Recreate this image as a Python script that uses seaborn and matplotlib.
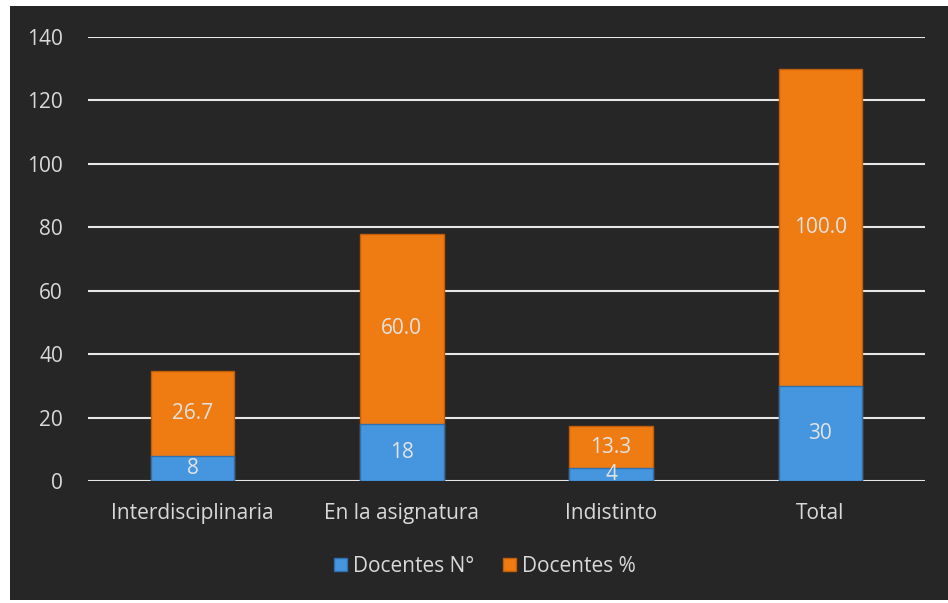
import matplotlib
matplotlib.use("Agg")
import matplotlib.pyplot as plt
import seaborn as sns
import pandas as pd
from matplotlib.patches import Rectangle

categories = ["Interdisciplinaria", "En la asignatura", "Indistinto", "Total"]
docentes_n = [8, 18, 4, 30]
docentes_pct = [26.7, 60.0, 13.3, 100.0]
pct_labels = ["26.7", "60.0", "13.3", "100.0"]
n_labels = ["8", "18", "4", "30"]
yticks = [0, 20, 40, 60, 80, 100, 120, 140]

sns.set_theme(style="dark")
plt.rcParams["font.family"] = ["Open Sans", "DejaVu Sans"]

W, H = 948, 603
fig = plt.figure(figsize=(W / 100, H / 100), dpi=100)
fig.patch.set_facecolor("white")
bg_color = "#262626"
fig.patches.append(Rectangle((10 / W, 3 / H), (W - 10) / W, (600 - 6) / H,
                             transform=fig.transFigure, facecolor=bg_color,
                             edgecolor="none", zorder=-10))

ax = fig.add_axes([88 / W, 1 - 481 / H, (925 - 88) / W, (481 - 37) / H])
ax.set_zorder(1)
ax.set_facecolor(bg_color)
ax.patch.set_alpha(0)

df = pd.DataFrame({
    "cat": categories,
    "n": docentes_n,
    "pct": docentes_pct,
})
df["total"] = df["n"] + df["pct"]

blue = "#4596de"
orange = "#ef7b13"
sns.barplot(data=df, x="cat", y="total", color=orange, width=0.4, ax=ax,
            saturation=1, edgecolor="#c25e08", linewidth=1.0, zorder=3)
sns.barplot(data=df, x="cat", y="n", color=blue, width=0.4, ax=ax,
            saturation=1, edgecolor="#2f6fae", linewidth=1.0, zorder=4)

ax.set_ylim(0, 140)
ax.set_xlim(-0.5, 3.5)
ax.set_yticks(yticks)
ax.set_yticklabels([str(t) for t in yticks])
for t in yticks:
    ax.axhline(t, color="#e6e6e6", lw=1.5, zorder=1)
ax.grid(False)
for s in ax.spines.values():
    s.set_visible(False)
ax.tick_params(axis="both", length=0, colors="#d9d9d9", labelsize=15)
ax.tick_params(axis="y", pad=18)
ax.tick_params(axis="x", pad=16)
ax.set_xlabel("")
ax.set_ylabel("")

text_color = "#e3e3e3"
for i in range(len(categories)):
    n = docentes_n[i]
    p = docentes_pct[i]
    ax.text(i, n / 2, n_labels[i], ha="center", va="center", color=text_color,
            fontsize=15, zorder=6)
    ax.text(i, n + p / 2, pct_labels[i], ha="center", va="center",
            color=text_color, fontsize=15, zorder=6)

handles = [Rectangle((0, 0), 1, 1, facecolor=blue, edgecolor="#2f6fae"),
           Rectangle((0, 0), 1, 1, facecolor=orange, edgecolor="#c25e08")]
fig.legend(handles, ["Docentes N°", "Docentes %"], loc="center",
           bbox_to_anchor=(485 / W, 1 - 566 / H), ncol=2, frameon=False,
           fontsize=15, labelcolor="#d9d9d9", handlelength=0.6,
           handleheight=0.6, handletextpad=0.3, columnspacing=1.4)

fig.savefig("out.png", dpi=100, facecolor=fig.get_facecolor())
